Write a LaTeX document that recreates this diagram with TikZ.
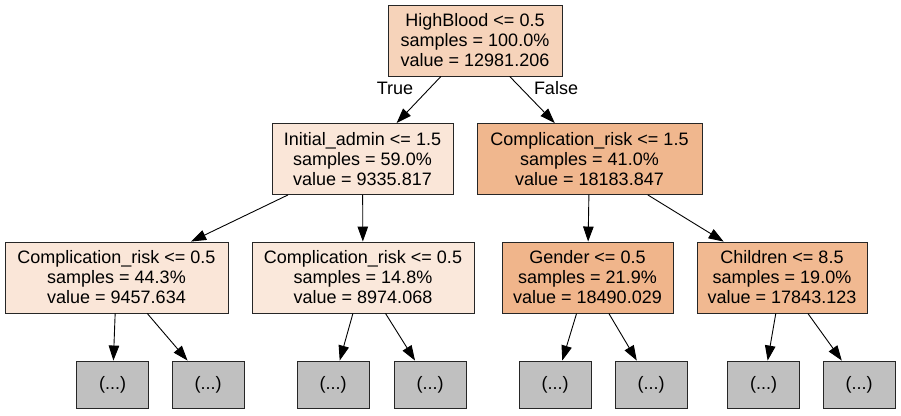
\documentclass[tikz,border=0pt]{standalone}
\usepackage{fontspec}
\setmainfont{Liberation Sans}
\usepackage{xcolor}
\usetikzlibrary{arrows.meta}
\definecolor{vroot}{RGB}{246,211,186}
\definecolor{vlow}{RGB}{250,230,216}
\definecolor{vlowr}{RGB}{250,232,219}
\definecolor{vhigh}{RGB}{240,183,142}
\definecolor{vgen}{RGB}{240,181,139}
\definecolor{vchi}{RGB}{241,185,145}
\definecolor{trunc}{RGB}{192,192,192}

\begin{document}
\begin{tikzpicture}[x=1pt,y=-1pt,
  txt/.style={font=\fontsize{18}{20}\selectfont},
  split/.style={txt,draw=black!85,line width=0.9pt,align=center,inner sep=0pt,minimum height=71pt},
  leaf/.style={split,fill=trunc,minimum width=72pt,minimum height=47pt},
  edge/.style={-{Triangle[length=15pt,width=10.5pt]},line width=0.9pt}]
\useasboundingbox (0,0) rectangle (901,415);
\node[split,fill=vroot,minimum width=174pt] (root) at (475,40.5) {HighBlood <= 0.5\\samples = 100.0\%\\value = 12981.206};
\node[split,fill=vlow,minimum width=181pt] (ia) at (362.5,159) {Initial\_admin <= 1.5\\samples = 59.0\%\\value = 9335.817};
\node[split,fill=vhigh,minimum width=225pt] (cr) at (589.5,159) {Complication\_risk <= 1.5\\samples = 41.0\%\\value = 18183.847};
\node[split,fill=vlow,minimum width=223pt] (crl) at (116.5,277.5) {Complication\_risk <= 0.5\\samples = 44.3\%\\value = 9457.634};
\node[split,fill=vlowr,minimum width=222pt] (crr) at (363,277.5) {Complication\_risk <= 0.5\\samples = 14.8\%\\value = 8974.068};
\node[split,fill=vgen,minimum width=171pt] (gen) at (587.5,277.5) {Gender <= 0.5\\samples = 21.9\%\\value = 18490.029};
\node[split,fill=vchi,minimum width=170pt] (chi) at (782,277.5) {Children <= 8.5\\samples = 19.0\%\\value = 17843.123};
\draw[edge] (root) -- (ia);
\draw[edge] (root) -- (cr);
\node[txt] (truelab) at (395,88) {True};
\node[txt] (falselab) at (556,88) {False};
\draw[edge] (ia) -- (crl);
\draw[edge] (ia) -- (crr);
\draw[edge] (cr) -- (gen);
\draw[edge] (cr) -- (chi);
\foreach \n/\x/\p in {l1/112.5/crl, l2/208/crl, l3/333/crr, l4/430/crr,
    l5/555/gen, l6/651/gen, l7/763.5/chi, l8/859/chi} {
  \node[leaf] (\n) at (\x,384.5) {(...)};
  \draw[edge] (\p) -- (\n);
}
\end{tikzpicture}
\end{document}
